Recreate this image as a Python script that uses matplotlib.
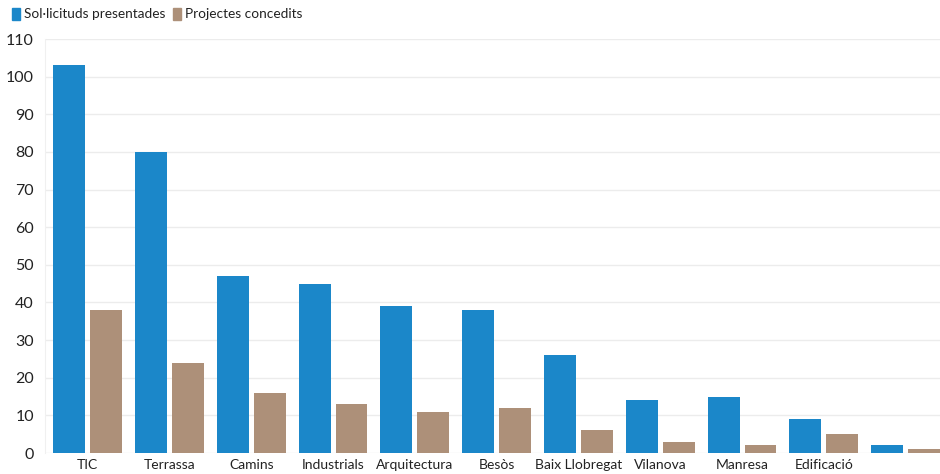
import numpy as np
import matplotlib.pyplot as plt
from matplotlib.patches import Patch

plt.rcParams['font.family'] = ['Lato', 'DejaVu Sans']

centres = ['TIC', 'Terrassa', 'Camins', 'Industrials', 'Arquitectura', 'Besòs',
           'Baix Llobregat', 'Vilanova', 'Manresa', 'Edificació', '']
sollicituds = [103, 80, 47, 45, 39, 38, 26, 14, 15, 9, 2]
projectes = [38, 24, 16, 13, 11, 12, 6, 3, 2, 5, 1]

blue = '#1b87c9'
brown = '#ad9079'

fig = plt.figure(figsize=(9.4, 4.74), dpi=100)
ax = fig.add_axes([0.048, 0.0443, 0.952, 0.8734])

x = np.arange(len(centres))
w = 0.39
ax.bar(x - 0.225, sollicituds, w, color=blue, zorder=3)
ax.bar(x + 0.225, projectes, w, color=brown, zorder=3)

ax.set_xlim(-0.52, 10.42)
ax.set_ylim(0, 110)
ax.set_yticks(range(0, 111, 10))
ax.set_xticks(x)
ax.set_xticklabels(centres)
ax.grid(axis='y', color='#ececec', linewidth=1, zorder=0)
for s in ['top', 'right', 'bottom']:
    ax.spines[s].set_visible(False)
ax.spines['left'].set_color('#f0f0f0')
ax.tick_params(axis='both', length=0, colors='#222222')
ax.tick_params(axis='y', labelsize=11.5, pad=8)
ax.tick_params(axis='x', labelsize=10, pad=4)

handles = [Patch(color=blue, label='Sol·licituds presentades'),
           Patch(color=brown, label='Projectes concedits')]
fig.legend(handles=handles, loc='upper left', bbox_to_anchor=(0.0, 1.01),
           ncol=2, frameon=False, fontsize=9.8, handlelength=0.6,
           handleheight=1.0, handletextpad=0.3, columnspacing=0.5,
           labelcolor='#222222')

fig.savefig('out.png', dpi=100)
